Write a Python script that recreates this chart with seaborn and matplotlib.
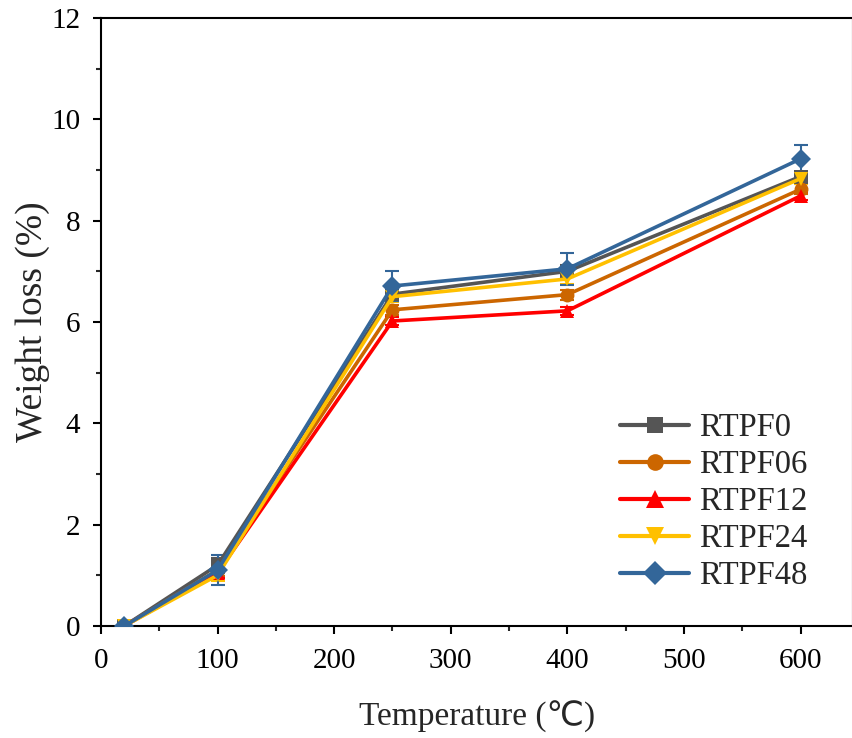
import numpy as np
import pandas as pd
import matplotlib
matplotlib.use("Agg")
import matplotlib.pyplot as plt
import seaborn as sns
from matplotlib.ticker import MultipleLocator

temperature = [20, 100, 250, 400, 600]
series_names = ["RTPF0", "RTPF06", "RTPF12", "RTPF24", "RTPF48"]
rtpf0 = [0.0, 1.20, 6.55, 7.00, 8.87]
rtpf06 = [0.0, 1.10, 6.24, 6.54, 8.62]
rtpf12 = [0.0, 1.05, 6.02, 6.22, 8.49]
rtpf24 = [0.0, 1.00, 6.50, 6.85, 8.83]
rtpf48 = [0.0, 1.10, 6.71, 7.05, 9.22]
err0 = [0.03, 0.15, 0.10, 0.12, 0.10]
err06 = [0.03, 0.12, 0.10, 0.10, 0.10]
err12 = [0.03, 0.10, 0.08, 0.08, 0.08]
err24 = [0.03, 0.12, 0.10, 0.10, 0.10]
err48 = [0.03, 0.30, 0.29, 0.32, 0.28]

values = [rtpf0, rtpf06, rtpf12, rtpf24, rtpf48]
errors = [err0, err06, err12, err24, err48]
colors = ["#555555", "#CC6600", "#FF0000", "#FFC000", "#336699"]
markers = ["s", "o", "^", "v", "D"]
msizes = [9.5, 10.5, 11.5, 11.5, 10.5]

df = pd.DataFrame({
    "Temperature": np.tile(temperature, len(series_names)),
    "Weight loss": np.concatenate(values),
    "Sample": np.repeat(series_names, len(temperature)),
})

sns.set_style("ticks")
plt.rcParams["font.family"] = ["Liberation Serif", "DejaVu Sans"]

fig = plt.figure(figsize=(8.53, 7.38), dpi=100)
ax = fig.add_axes([0.1184, 0.1518, 0.8816, 0.8238])

for name, v, e, c in zip(series_names, values, errors, colors):
    ax.errorbar(temperature, v, yerr=e, fmt="none", ecolor=c, elinewidth=1.5,
                capsize=5, capthick=1.5, zorder=2)

sns.lineplot(data=df, x="Temperature", y="Weight loss", hue="Sample",
             style="Sample", hue_order=series_names, style_order=series_names,
             palette=dict(zip(series_names, colors)),
             markers=dict(zip(series_names, markers)), dashes=False,
             linewidth=2.6, markersize=10, markeredgewidth=0, ax=ax, zorder=3)

for line, ms in zip(ax.get_lines()[-len(series_names):], msizes):
    line.set_markersize(ms)

ax.set_xlim(0, 645)
ax.set_ylim(0, 12)
ax.xaxis.set_major_locator(MultipleLocator(100))
ax.xaxis.set_minor_locator(MultipleLocator(50))
ax.yaxis.set_major_locator(MultipleLocator(2))
ax.yaxis.set_minor_locator(MultipleLocator(1))
ax.tick_params(which="major", direction="out", length=6, width=1.5, labelsize=21,
               top=False, right=False, colors="black")
ax.tick_params(axis="x", which="major", pad=10)
ax.tick_params(axis="y", which="major", pad=9)
ax.tick_params(which="minor", direction="out", length=3.5, width=1.5,
               top=False, right=False)
for s in ax.spines.values():
    s.set_linewidth(1.5)
    s.set_color("black")

ax.set_xlabel("Temperature (℃)", fontsize=24, labelpad=19)
ax.set_ylabel("Weight loss (%)", fontsize=27, labelpad=1)

handles, labels = ax.get_legend_handles_labels()
for h, ms in zip(handles, msizes):
    h.set_markersize(ms + 1.5)
    h.set_linewidth(3)
leg = ax.legend(handles, labels, loc="lower right", bbox_to_anchor=(0.965, 0.025),
                frameon=False, fontsize=23.5, handlelength=2.1, handletextpad=0.3,
                labelspacing=0.2, borderaxespad=0.2)

fig.savefig("out.png", dpi=100)
